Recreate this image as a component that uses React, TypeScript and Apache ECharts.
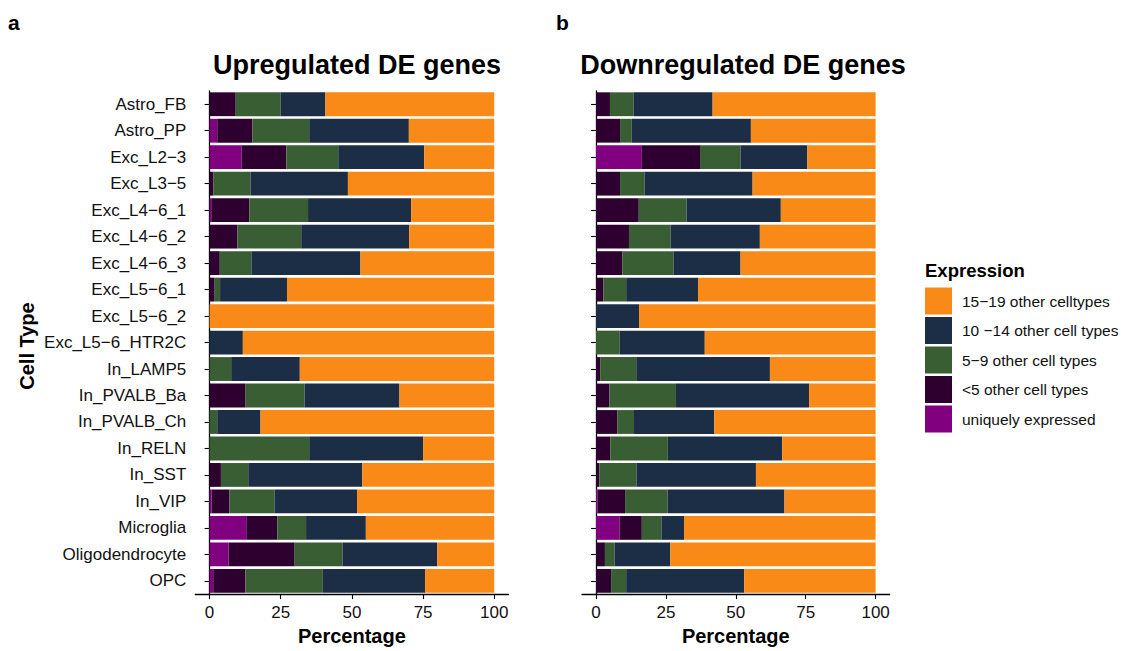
import React, { useEffect, useRef } from "react";
import * as echarts from "echarts";

// Cell types, top to bottom
const CELL_TYPES = [
  "Astro_FB", "Astro_PP", "Exc_L2−3", "Exc_L3−5", "Exc_L4−6_1", "Exc_L4−6_2",
  "Exc_L4−6_3", "Exc_L5−6_1", "Exc_L5−6_2", "Exc_L5−6_HTR2C", "In_LAMP5",
  "In_PVALB_Ba", "In_PVALB_Ch", "In_RELN", "In_SST", "In_VIP", "Microglia",
  "Oligodendrocyte", "OPC",
];

// Expression classes, in stacking order (left to right)
const CLASSES = [
  "uniquely expressed",
  "<5 other cell types",
  "5−9 other cell types",
  "10 −14 other cell types",
  "15−19 other celltypes",
];
const CLASS_COLORS = ["#800080", "#2E0030", "#3A5E34", "#1B2E45", "#FA8A17"];

// Upregulated DE genes (% per cell type)
const UP_UNIQUE = [0, 2.7, 11.3, 0, 0.6, 0, 0, 0, 0, 0, 0, 0, 0, 0, 0, 0.7, 12.9, 6.7, 1.3];
const UP_LT5 = [9.2, 12.3, 15.7, 1.4, 13.4, 9.8, 3.6, 1.8, 0, 0, 0, 12.5, 0, 0, 4.0, 6.3, 10.9, 23.2, 11.3];
const UP_5_9 = [15.8, 20.0, 18.2, 13.0, 20.6, 22.4, 11.1, 1.9, 0, 0, 7.6, 20.9, 2.7, 35.0, 9.6, 15.8, 10.1, 16.8, 27.2];
const UP_10_14 = [15.7, 35.0, 30.2, 34.2, 36.2, 37.9, 38.3, 23.5, 0, 11.7, 24.1, 33.3, 15.2, 40.0, 40.0, 29.0, 21.0, 33.3, 35.9];
const UP_15_19 = [59.3, 30.0, 24.6, 51.4, 29.2, 29.9, 47.0, 72.8, 100, 88.3, 68.3, 33.3, 82.1, 25.0, 46.4, 48.2, 45.1, 20.0, 24.3];

// Downregulated DE genes (% per cell type)
const DOWN_UNIQUE = [0, 0, 16.4, 0, 0.2, 0, 0, 0, 0, 0, 0, 0, 0, 0, 0, 0.6, 8.5, 0, 0];
const DOWN_LT5 = [5.0, 8.6, 20.8, 8.6, 15.1, 11.8, 9.4, 2.6, 0, 0, 1.5, 4.8, 7.6, 5.1, 1.2, 9.8, 7.9, 3.2, 5.4];
const DOWN_5_9 = [8.5, 4.2, 14.5, 8.8, 17.1, 14.9, 18.4, 8.2, 0, 8.5, 12.9, 23.8, 6.0, 20.6, 13.3, 15.2, 7.0, 3.5, 5.4];
const DOWN_10_14 = [28.2, 42.6, 23.9, 38.6, 33.7, 31.9, 23.9, 25.7, 15.4, 30.4, 47.8, 47.6, 28.7, 40.9, 42.7, 41.8, 8.1, 19.9, 42.2];
const DOWN_15_19 = [58.3, 44.6, 24.4, 44.0, 33.9, 41.4, 48.3, 63.5, 84.6, 61.1, 37.8, 23.8, 57.7, 33.4, 42.8, 32.6, 68.5, 73.4, 47.0];

const X_TICKS = [0, 25, 50, 75, 100];
const LEGEND_ORDER = [...CLASSES].reverse();

const FONT = "'Liberation Sans', Arial, Helvetica, sans-serif";

export default function App() {
  const ref = useRef<HTMLDivElement>(null);

  useEffect(() => {
    if (!ref.current) return;
    const chart = echarts.init(ref.current, undefined, { renderer: "svg" });

    const upData = [UP_UNIQUE, UP_LT5, UP_5_9, UP_10_14, UP_15_19];
    const downData = [DOWN_UNIQUE, DOWN_LT5, DOWN_5_9, DOWN_10_14, DOWN_15_19];

    const makeSeries = (data: number[][], idx: number, stack: string) =>
      CLASSES.map((name, i) => ({
        name,
        type: "bar",
        stack,
        xAxisIndex: idx,
        yAxisIndex: idx,
        barCategoryGap: "10%",
        data: data[i],
        itemStyle: { color: CLASS_COLORS[i] },
        emphasis: { disabled: true },
      }));

    const xAxisFor = (gridIndex: number) => ({
      type: "value",
      gridIndex,
      min: -5,
      max: 105,
      name: "Percentage",
      nameLocation: "middle",
      nameGap: 31,
      nameTextStyle: { fontFamily: FONT, fontSize: 20, fontWeight: "bold", color: "#000" },
      axisLine: { show: true, lineStyle: { color: "#000", width: 1.3 } },
      axisTick: { show: true, length: 5, customValues: X_TICKS, lineStyle: { color: "#000", width: 1.1 } },
      axisLabel: { customValues: X_TICKS, fontFamily: FONT, fontSize: 17, color: "#111", margin: 10 },
      splitLine: { show: false },
    });

    const yAxisFor = (gridIndex: number, showLabels: boolean) => ({
      type: "category",
      gridIndex,
      data: CELL_TYPES,
      inverse: true,
      axisLine: { show: true, lineStyle: { color: "#000", width: 1.3 } },
      axisTick: { show: true, length: 5, alignWithLabel: true, lineStyle: { color: "#000", width: 1.1 } },
      axisLabel: { show: showLabels, fontFamily: FONT, fontSize: 17, color: "#111", margin: 9 },
      splitLine: { show: false },
    });

    chart.setOption({
      animation: false,
      backgroundColor: "#fff",
      textStyle: { fontFamily: FONT },
      title: [
        {
          text: "Upregulated DE genes",
          left: 352,
          top: 46,
          textAlign: "center",
          textStyle: { fontFamily: FONT, fontSize: 27, fontWeight: "bold", color: "#000" },
        },
        {
          text: "Downregulated DE genes",
          left: 738,
          top: 46,
          textAlign: "center",
          textStyle: { fontFamily: FONT, fontSize: 27, fontWeight: "bold", color: "#000" },
        },
      ],
      legend: {
        data: LEGEND_ORDER,
        orient: "vertical",
        left: 925,
        top: 287.5,
        padding: 0,
        itemWidth: 27,
        itemHeight: 27,
        itemGap: 2.5,
        icon: "rect",
        selectedMode: false,
        textStyle: { fontFamily: FONT, fontSize: 15.5, color: "#111", padding: [0, 0, 0, 5] },
      },
      grid: [
        { left: 195.3, top: 91, width: 313.2, height: 512 },
        { left: 582, top: 91, width: 307.6, height: 512 },
      ],
      xAxis: [xAxisFor(0), xAxisFor(1)],
      yAxis: [yAxisFor(0, true), yAxisFor(1, false)],
      series: [...makeSeries(upData, 0, "up"), ...makeSeries(downData, 1, "down")],
      graphic: [
        {
          type: "text",
          left: 8,
          top: 12,
          style: { text: "a", fontFamily: FONT, fontSize: 21, fontWeight: "bold", fill: "#000" },
        },
        {
          type: "text",
          left: 556,
          top: 12,
          style: { text: "b", fontFamily: FONT, fontSize: 21, fontWeight: "bold", fill: "#000" },
        },
        {
          type: "text",
          x: 27,
          y: 346,
          rotation: Math.PI / 2,
          style: {
            text: "Cell Type",
            fontFamily: FONT,
            fontSize: 20,
            fontWeight: "bold",
            fill: "#000",
            align: "center",
            verticalAlign: "middle",
          },
        },
        {
          type: "text",
          x: 925,
          y: 270,
          style: {
            text: "Expression",
            fontFamily: FONT,
            fontSize: 18.5,
            fontWeight: "bold",
            fill: "#000",
            align: "left",
            verticalAlign: "middle",
          },
        },
      ],
    });

    return () => chart.dispose();
  }, []);

  return (
    <div
      ref={ref}
      style={{ position: "fixed", left: 0, top: 0, width: 1121, height: 651 }}
    />
  );
}
